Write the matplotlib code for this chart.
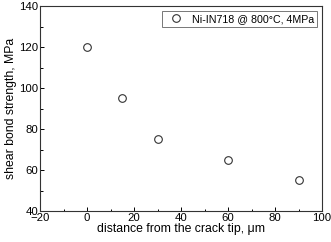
import matplotlib
matplotlib.use("Agg")
import matplotlib.pyplot as plt
from matplotlib.ticker import MultipleLocator

plt.rcParams['font.family'] = ['Liberation Sans', 'DejaVu Sans']

distance = [0, 15, 30, 60, 90]          # um
strength = [120, 95, 75, 65, 55]        # MPa

fig = plt.figure(figsize=(3.31, 2.42), dpi=100)
ax = fig.add_axes([0.121, 0.128, 0.852, 0.847])

ax.plot(distance, strength, linestyle='none', marker='o', markersize=5.5,
        markerfacecolor='white', markeredgecolor='#333333', markeredgewidth=0.8,
        label="Ni-IN718 @ 800°C, 4MPa")

ax.set_xlim(-20, 100)
ax.set_ylim(40, 140)
ax.xaxis.set_major_locator(MultipleLocator(20))
ax.xaxis.set_minor_locator(MultipleLocator(10))
ax.yaxis.set_major_locator(MultipleLocator(20))
ax.yaxis.set_minor_locator(MultipleLocator(10))
ax.tick_params(which='both', direction='in', labelsize=8.2, width=0.7, pad=1.5)
ax.tick_params(which='major', length=3)
ax.tick_params(which='minor', length=1.8)
for s in ax.spines.values():
    s.set_linewidth(0.8)
    s.set_color('#333333')

ax.set_xlabel("distance from the crack tip, μm", fontsize=8.8, labelpad=0)
ax.set_ylabel("shear bond strength, MPa", fontsize=8.8, labelpad=1)

leg = ax.legend(loc='upper right', fontsize=7.7, frameon=True, fancybox=False,
                edgecolor='#555555', handletextpad=0.5, borderpad=0.25,
                handlelength=2.0, borderaxespad=0.5)
leg.get_frame().set_linewidth(0.7)

fig.savefig("out.png", dpi=100)
